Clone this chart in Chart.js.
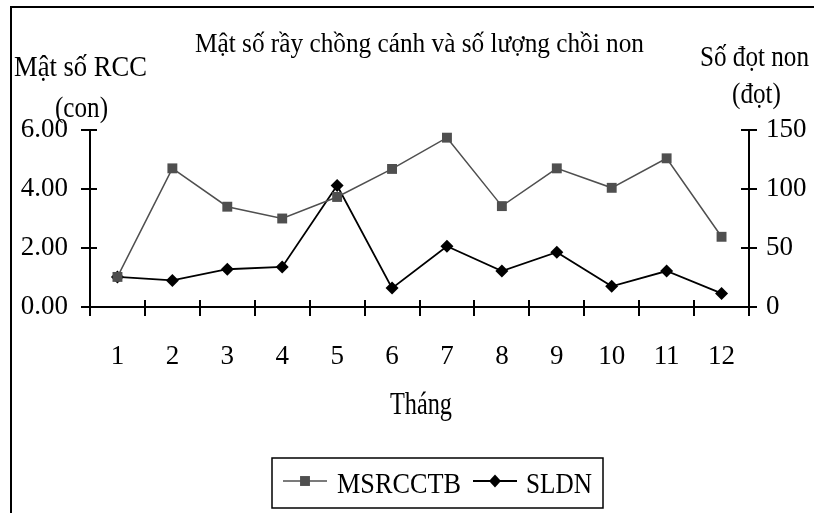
<!DOCTYPE html>
<html>
<head>
<meta charset="utf-8">
<script src="https://cdn.jsdelivr.net/npm/chart.js@4/dist/chart.umd.min.js"></script>
<style>
  html, body { margin: 0; padding: 0; background: #fff; }
  #wrap { width: 814px; height: 513px; position: relative; }
</style>
</head>
<body>
<div id="wrap"><canvas id="c" width="814" height="513"></canvas></div>
<script>
// Months on the horizontal axis
const months = ['1', '2', '3', '4', '5', '6', '7', '8', '9', '10', '11', '12'];
// Mật số rầy chồng cánh trưởng thành (con) – left axis
const msrcctb = [1.02, 4.70, 3.40, 3.00, 3.73, 4.68, 5.74, 3.42, 4.70, 4.04, 5.04, 2.38];
// Số lượng đọt non (đọt) – right axis
const sldn = [25.5, 22.5, 32, 34, 103, 16, 51.5, 30.5, 46.5, 17.5, 30.5, 11.5];

const FONT = '"Liberation Serif", "Times New Roman", serif';
const GREY = '#4f4f4f';

// Draw a text string starting at x, on the given baseline, squeezed to a width
function fitText(ctx, str, x, baseline, size, width) {
  ctx.save();
  ctx.font = size + 'px ' + FONT;
  const m = ctx.measureText(str).width;
  ctx.translate(x, baseline);
  ctx.scale(width / m, 1);
  ctx.textAlign = 'left';
  ctx.textBaseline = 'alphabetic';
  ctx.fillStyle = '#000';
  ctx.fillText(str, 0, 0);
  ctx.restore();
}

function drawMarker(ctx, style, x, y, r, color) {
  ctx.save();
  ctx.fillStyle = color;
  ctx.beginPath();
  if (style === 'rect') {
    const s = Math.SQRT1_2 * r;
    ctx.rect(x - s, y - s, 2 * s, 2 * s);
  } else {
    ctx.moveTo(x, y - r);
    ctx.lineTo(x + r * 0.92, y);
    ctx.lineTo(x, y + r);
    ctx.lineTo(x - r * 0.92, y);
    ctx.closePath();
  }
  ctx.fill();
  ctx.restore();
}

// Axes with crossing tick marks, frame lines, captions and the boxed legend
const decorations = {
  id: 'decorations',
  beforeDatasetsDraw(chart) {
    const ctx = chart.ctx;
    const ca = chart.chartArea;
    const xs = chart.scales.x, yl = chart.scales.y, yr = chart.scales.y1;
    ctx.save();
    ctx.strokeStyle = '#000';
    ctx.lineWidth = 2;
    ctx.beginPath();
    // left axis
    ctx.moveTo(ca.left, yl.getPixelForValue(yl.max));
    ctx.lineTo(ca.left, ca.bottom);
    yl.ticks.forEach(t => {
      const py = Math.round(yl.getPixelForValue(t.value));
      ctx.moveTo(ca.left - 9, py);
      ctx.lineTo(ca.left + 7, py);
    });
    // right axis
    ctx.moveTo(ca.right, yr.getPixelForValue(yr.max));
    ctx.lineTo(ca.right, ca.bottom);
    yr.ticks.forEach(t => {
      const py = Math.round(yr.getPixelForValue(t.value));
      ctx.moveTo(ca.right - 8, py);
      ctx.lineTo(ca.right + 8, py);
    });
    // category axis with boundary ticks
    ctx.moveTo(ca.left, ca.bottom);
    ctx.lineTo(ca.right, ca.bottom);
    for (let k = 0; k <= months.length; k++) {
      const px = Math.round(xs.getPixelForValue(k - 0.5));
      ctx.moveTo(px, ca.bottom - 7);
      ctx.lineTo(px, ca.bottom + 9);
    }
    ctx.stroke();
    ctx.restore();
  },
  afterDraw(chart) {
    const ctx = chart.ctx;
    ctx.save();
    // frame edges
    ctx.strokeStyle = '#000';
    ctx.lineWidth = 2;
    ctx.beginPath();
    ctx.moveTo(11, 513);
    ctx.lineTo(11, 7);
    ctx.lineTo(814, 7);
    ctx.stroke();

    fitText(ctx, 'Mật số rầy chồng cánh và số lượng chồi non', 195, 52, 27, 449);
    fitText(ctx, 'Mật số RCC', 14, 76, 30, 133);
    fitText(ctx, '(con)', 55, 117, 30, 53);
    fitText(ctx, 'Số đọt non', 700, 66, 29, 109);
    fitText(ctx, '(đọt)', 732, 103, 29, 49);
    fitText(ctx, 'Tháng', 390, 414, 31, 62);

    // legend
    ctx.lineWidth = 1.5;
    ctx.strokeRect(272, 458, 331, 50);
    const ds = chart.data.datasets;
    const items = [
      { d: ds[0], x0: 283, x1: 327, tx: 337, tw: 124 },
      { d: ds[1], x0: 473, x1: 517, tx: 526, tw: 66 }
    ];
    items.forEach(it => {
      ctx.strokeStyle = it.d.borderColor;
      ctx.lineWidth = it.d.borderWidth;
      ctx.beginPath();
      ctx.moveTo(it.x0, 481);
      ctx.lineTo(it.x1, 481);
      ctx.stroke();
      drawMarker(ctx, it.d.pointStyle, (it.x0 + it.x1) / 2, 481, it.d.pointRadius, it.d.pointBackgroundColor);
      fitText(ctx, it.d.label, it.tx, 493, 29, it.tw);
    });
    ctx.restore();
  }
};

new Chart(document.getElementById('c'), {
  type: 'line',
  data: {
    labels: months,
    datasets: [
      {
        label: 'MSRCCTB',
        data: msrcctb,
        yAxisID: 'y',
        borderColor: GREY,
        borderWidth: 1.5,
        pointStyle: 'rect',
        pointRadius: 7,
        pointBackgroundColor: GREY,
        pointBorderWidth: 0,
        tension: 0
      },
      {
        label: 'SLDN',
        data: sldn,
        yAxisID: 'y1',
        borderColor: '#000',
        borderWidth: 1.8,
        pointStyle: 'rectRot',
        pointRadius: 6.5,
        pointBackgroundColor: '#000',
        pointBorderWidth: 0,
        tension: 0
      }
    ]
  },
  options: {
    responsive: false,
    animation: false,
    devicePixelRatio: 1,
    layout: { padding: { top: 130, left: 0, right: 0, bottom: 0 } },
    plugins: {
      legend: { display: false },
      title: { display: false },
      tooltip: { enabled: false }
    },
    scales: {
      x: {
        type: 'category',
        offset: true,
        grid: { display: false },
        border: { display: false },
        ticks: { color: '#000', font: { family: FONT, size: 27 }, padding: 26, maxRotation: 0, autoSkip: false },
        afterFit(s) { s.height = 206; }
      },
      y: {
        position: 'left',
        min: 0,
        max: 6,
        grid: { display: false },
        border: { display: false },
        ticks: { stepSize: 2, color: '#000', font: { family: FONT, size: 27 }, padding: 14,
                 callback: v => Number(v).toFixed(2) },
        afterFit(s) { s.width = 90; }
      },
      y1: {
        position: 'right',
        min: 0,
        max: 150,
        grid: { display: false },
        border: { display: false },
        ticks: { stepSize: 50, color: '#000', font: { family: FONT, size: 27 }, padding: 9 },
        afterFit(s) { s.width = 65; }
      }
    }
  },
  plugins: [decorations]
});
</script>
</body>
</html>
